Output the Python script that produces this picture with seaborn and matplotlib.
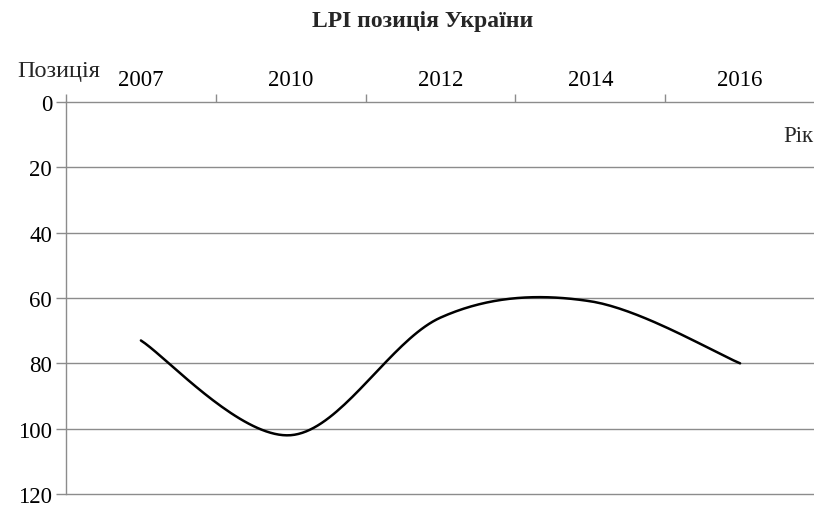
import numpy as np
import pandas as pd
import matplotlib
matplotlib.use("Agg")
import matplotlib.pyplot as plt
import seaborn as sns

# LPI rank of Ukraine by year
years = ["2007", "2010", "2012", "2014", "2016"]
positions = [73, 102, 66, 61, 80]
y_ticks = [0, 20, 40, 60, 80, 100, 120]


def smooth_curve(xs, ys, n=40):
    # Excel-like smoothed line: Bezier through points, Catmull-Rom tangents
    xs = np.asarray(xs, float)
    ys = np.asarray(ys, float)
    px = np.concatenate([[xs[0]], xs, [xs[-1]]])
    py = np.concatenate([[ys[0]], ys, [ys[-1]]])
    out_x, out_y = [], []
    t = np.linspace(0, 1, n)
    for i in range(1, len(px) - 2):
        p0 = np.array([px[i], py[i]])
        p3 = np.array([px[i + 1], py[i + 1]])
        c1 = p0 + (np.array([px[i + 1], py[i + 1]]) - np.array([px[i - 1], py[i - 1]])) / 6
        c2 = p3 - (np.array([px[i + 2], py[i + 2]]) - np.array([px[i], py[i]])) / 6
        b = ((1 - t) ** 3)[:, None] * p0 + (3 * (1 - t) ** 2 * t)[:, None] * c1 \
            + (3 * (1 - t) * t ** 2)[:, None] * c2 + (t ** 3)[:, None] * p3
        out_x.extend(b[:, 0])
        out_y.extend(b[:, 1])
    return np.array(out_x), np.array(out_y)


sns.set_theme(style="white")
plt.rcParams["font.family"] = ["Liberation Serif", "DejaVu Serif"]
FS = 16.5

fig = plt.figure(figsize=(8.14, 5.06), dpi=100)
ax = fig.add_axes([66 / 814, 1 - 495 / 506, 749 / 814, (495 - 103) / 506])

xs = np.arange(len(years))
sx, sy = smooth_curve(xs, positions)
curve = pd.DataFrame({"x": sx, "y": sy})
sns.lineplot(data=curve, x="x", y="y", ax=ax, color="black", linewidth=1.8, sort=False, estimator=None)

grid_c = "#8c8c8c"
ax.set_xlim(-0.5, len(years) - 0.5)
ax.set_ylim(120, 0)
ax.set_yticks(y_ticks)
ax.set_yticklabels([str(v) for v in y_ticks], fontsize=FS)
for v in y_ticks[1:]:
    ax.axhline(v, color=grid_c, linewidth=1.0, zorder=0, clip_on=False)

ax.xaxis.tick_top()
ax.set_xticks(xs)
ax.set_xticklabels(years, fontsize=FS)
ax.set_xticks(np.arange(-0.5, len(years)), minor=True)
ax.tick_params(axis="x", which="major", length=0, pad=9)
ax.tick_params(axis="x", which="minor", length=6, width=1, direction="out", top=True, bottom=False)
ax.tick_params(axis="y", length=7, width=1, left=True, pad=3)

for side in ["right", "bottom"]:
    ax.spines[side].set_visible(False)
for side in ["top", "left"]:
    ax.spines[side].set_color(grid_c)
    ax.spines[side].set_linewidth(1.0)

ax.set_xlabel("")
ax.set_ylabel("")
ax.tick_params(axis="both", which="both", color=grid_c, labelcolor="black")

fig.text(17 / 814, 1 - 71 / 506, "Позиція", fontsize=17.5, va="center", ha="left")
fig.text(813 / 814, 1 - 137 / 506, "Рік", fontsize=FS, va="center", ha="right")
fig.text(423 / 814, 1 - 21 / 506, "LPI позиція України", fontsize=17, fontweight="bold", ha="center", va="center")

fig.savefig("out.png", dpi=100)
